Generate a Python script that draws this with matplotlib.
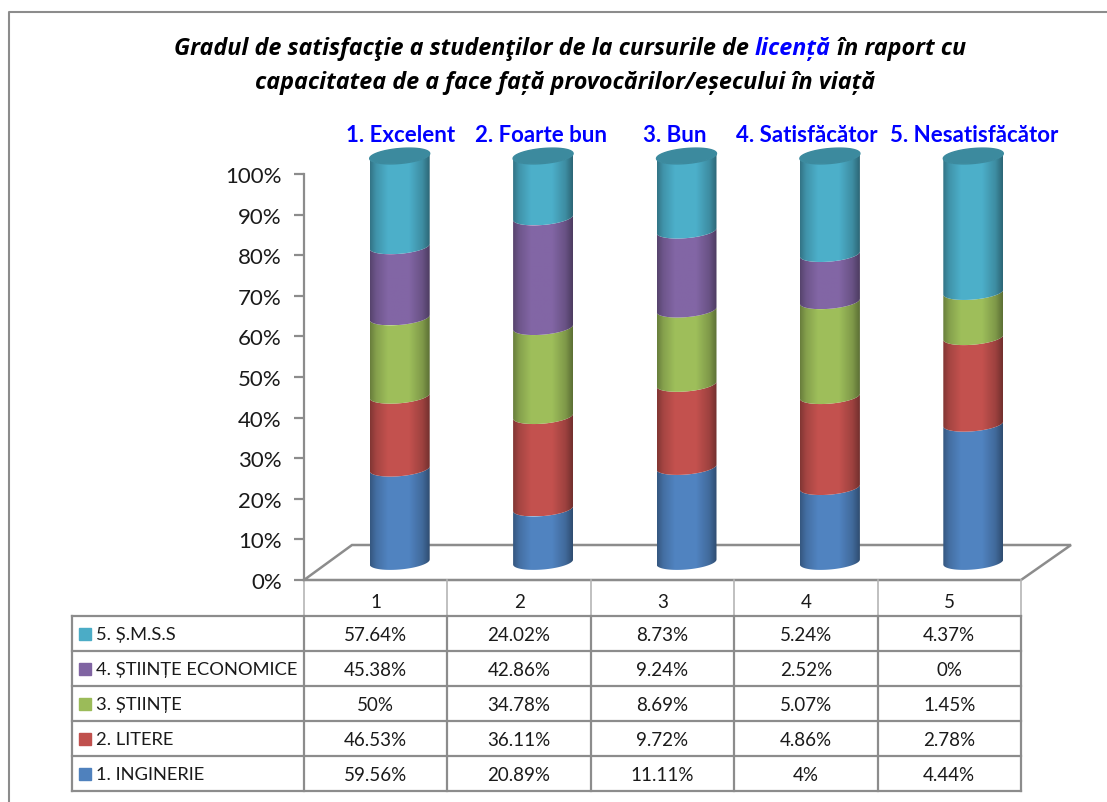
import numpy as np
import matplotlib
matplotlib.use('Agg')
import matplotlib.pyplot as plt
from matplotlib.colors import to_rgb
from matplotlib.patches import PathPatch
from matplotlib.path import Path
from matplotlib.ticker import PercentFormatter

W, H = 1107, 803

categories = ['1', '2', '3', '4', '5']
top_labels = ['1. Excelent', '2. Foarte bun', '3. Bun', '4. Satisfăcător', '5. Nesatisfăcător']
series_names = ['1. INGINERIE', '2. LITERE', '3. ȘTIINȚE', '4. ȘTIINȚE ECONOMICE', '5. Ș.M.S.S']
colors = ['#4F81BD', '#C0504D', '#9BBB59', '#8064A2', '#4BACC6']

inginerie = [59.56, 20.89, 11.11, 4, 4.44]
litere = [46.53, 36.11, 9.72, 4.86, 2.78]
stiinte = [50, 34.78, 8.69, 5.07, 1.45]
economice = [45.38, 42.86, 9.24, 2.52, 0]
smss = [57.64, 24.02, 8.73, 5.24, 4.37]

plt.rcParams['font.family'] = ['Lato', 'Noto Sans', 'DejaVu Sans']
GREY = '#8c8c8c'
TITLE_FONT = ['Open Sans', 'Noto Sans', 'DejaVu Sans']

fig = plt.figure(figsize=(W / 100, H / 100), dpi=100)

# overlay in pixel coords for frame and table
bg = fig.add_axes([0, 0, 1, 1])
bg.set_xlim(0, W)
bg.set_ylim(H, 0)
bg.axis('off')

left, right, y0, y100 = 304, 1021, 581, 175
ax = fig.add_axes([left / W, 1 - y0 / H, (right - left) / W, (y0 - y100) / H])
ax.patch.set_alpha(0)
for s in ['top', 'right', 'bottom']:
    ax.spines[s].set_visible(False)
ax.spines['left'].set_color(GREY)
ax.spines['left'].set_linewidth(1.6)
ax.set_xticks([])
ax.set_yticks(range(0, 101, 10))
ax.yaxis.set_major_formatter(PercentFormatter(decimals=0))
ax.tick_params(axis='y', length=7, width=1.6, color=GREY, labelsize=16, pad=9, labelcolor='#1a1a1a')

px_x = 5 / (right - left)
px_y = 100 / (y0 - y100)
dx, dy = 24 * px_x, 18 * px_y      # depth offset of the columns
a, b, tilt = 30 * px_x, 7.5 * px_y, 2.5 * px_y

# floor of the 3d plot
bg.plot([left, 352, 1071, 1021, left], [y0, 546, 546, y0, y0], color=GREY, lw=1.8,
        solid_joinstyle='miter', zorder=1)

data = np.array([inginerie, litere, stiinte, economice, smss])
shares = data / data.sum(axis=0) * 100


def gradient(color):
    rgb = np.array(to_rgb(color))
    xs = np.linspace(0, 1, 64)
    shade = np.interp(xs, [0, 0.1, 0.3, 0.65, 0.88, 1], [0.68, 0.86, 1.02, 1.02, 0.82, 0.6])
    return np.clip(rgb[None, None, :] * shade[None, :, None], 0, 1)


t = np.linspace(np.pi, 2 * np.pi, 40)
for i in range(len(categories)):
    cx = i + 1 + dx
    bottom = 0
    for j, color in enumerate(colors):
        h = shares[j, i]
        if h == 0:
            continue
        lo = bottom + dy + b * np.sin(t) + tilt * np.cos(t)
        hi = bottom + h + dy + b * np.sin(t) + tilt * np.cos(t)
        xs = cx + a * np.cos(t)
        verts = np.vstack([np.column_stack([xs, lo]), np.column_stack([xs[::-1], hi[::-1]])])
        path = Path(np.vstack([verts, verts[0]]), closed=True)
        patch = PathPatch(path, fc='none', ec='none', transform=ax.transData)
        ax.add_patch(patch)
        im = ax.imshow(gradient(color), extent=[cx - a, cx + a, lo.min(), hi.max()],
                       aspect='auto', interpolation='bilinear', zorder=3)
        im.set_clip_path(patch)
        im.set_clip_box(fig.bbox)
        bottom += h
    # top cap
    tt = np.linspace(0, 2 * np.pi, 80)
    xs = cx + a * np.cos(tt)
    ys = 100 + dy + b * np.sin(tt) + tilt * np.cos(tt)
    ax.fill(xs, ys, color=np.array(to_rgb(colors[-1])) * 0.8, zorder=4, clip_on=False)
ax.set_xlim(0.5, 5.5)
ax.set_ylim(0, 100)

# labels over the columns
label_x = [401, 541, 675, 807, 974]
for x, s in zip(label_x, top_labels):
    bg.text(x, 136, s, color='#0000ff', fontsize=16, fontweight='bold', ha='center', va='center')

title_kw = dict(fontsize=16.8, fontweight='bold', fontstyle='italic', family=TITLE_FONT)
title1 = bg.text(174, 49, 'Gradul de satisfacţie a studenţilor de la cursurile de ',
                 va='center', ha='left', **title_kw)
title2 = bg.annotate('licență', xy=(1, 0), xycoords=title1, xytext=(0, 0), textcoords='offset points',
                     color='#0000ff', va='bottom', ha='left', **title_kw)
bg.annotate(' în raport cu', xy=(1, 0), xycoords=title2, xytext=(0, 0), textcoords='offset points',
            va='bottom', ha='left', **title_kw)
bg.text(565, 83, 'capacitatea de a face față provocărilor/eșecului în viață',
        va='center', ha='center', **title_kw)

# frame
bg.plot([8.5, 8.5, W], [H, 12.5, 12.5], color=GREY, lw=1.5)

# data table
col_x = np.linspace(left, right, len(categories) + 1)
row_y = np.linspace(617, 792, len(series_names) + 1)
table_left = 72
for y in row_y:
    bg.plot([table_left, right], [y, y], color=GREY, lw=1.6, zorder=1)
bg.plot([table_left, table_left], [row_y[0], row_y[-1]], color=GREY, lw=1.6)
for x in col_x:
    bg.plot([x, x], [y0, row_y[0]], color='#b5b5b5', lw=1.2)
    bg.plot([x, x], [row_y[0], row_y[-1]], color=GREY, lw=1.6)

centers = (col_x[:-1] + col_x[1:]) / 2
for x, c in zip(centers, categories):
    bg.text(x, 603, c, fontsize=13.5, ha='center', va='center', color='#1a1a1a')

rows = [smss, economice, stiinte, litere, inginerie]
names = series_names[::-1]
cols = colors[::-1]
for r, (vals, name, col) in enumerate(zip(rows, names, cols)):
    yc = (row_y[r] + row_y[r + 1]) / 2
    bg.add_patch(plt.Rectangle((79, yc - 6), 12, 12, color=col))
    bg.text(96, yc + 1, name, fontsize=13.2, ha='left', va='center', color='#1a1a1a')
    for x, v in zip(centers, vals):
        bg.text(x, yc + 1, f'{v:g}%', fontsize=13.5, ha='center', va='center', color='#1a1a1a')

fig.savefig('out.png', dpi=100)
